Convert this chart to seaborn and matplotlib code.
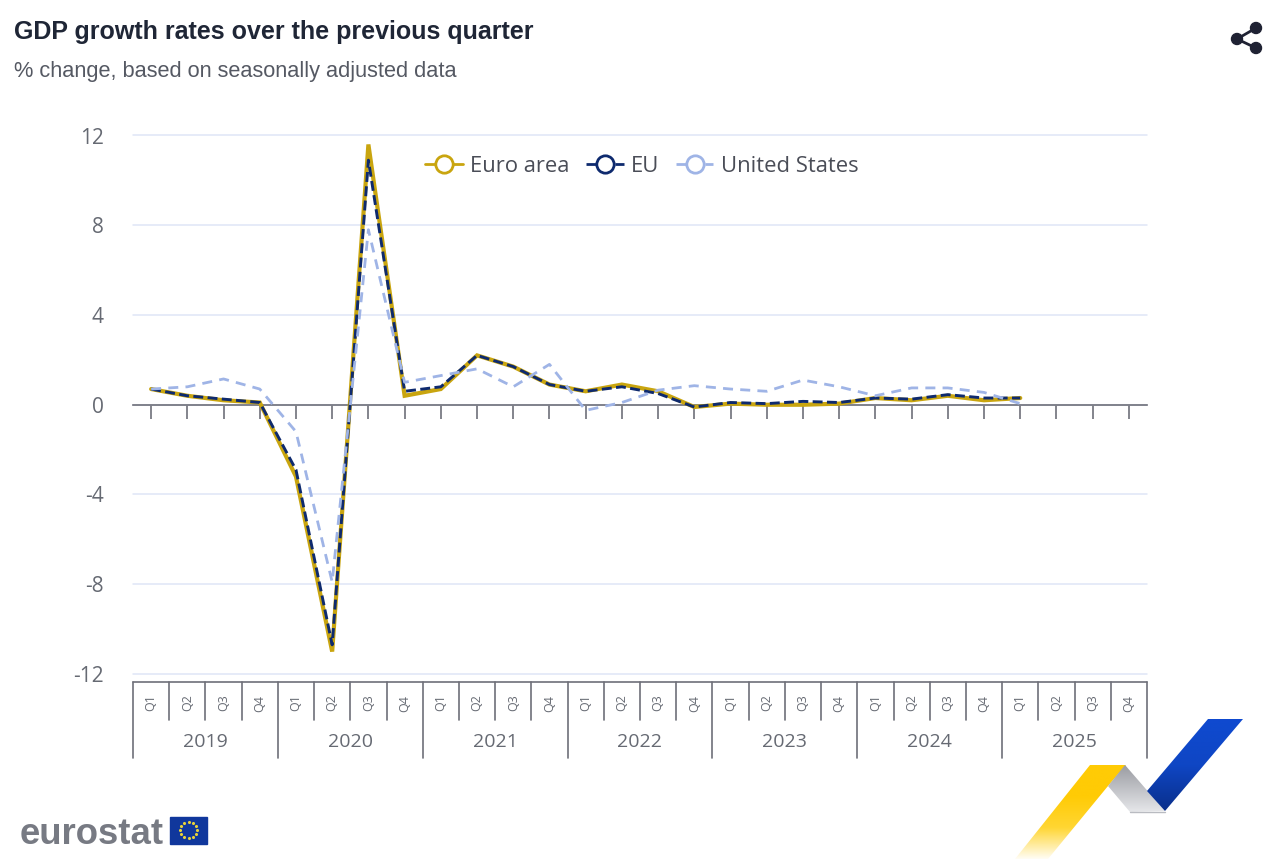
import numpy as np
import pandas as pd
import matplotlib.pyplot as plt
import matplotlib.colors as mcolors
from matplotlib.lines import Line2D
from matplotlib.patches import Polygon, Circle, Rectangle
import seaborn as sns

years = ['2019', '2020', '2021', '2022', '2023', '2024', '2025']
quarters = ['Q1', 'Q2', 'Q3', 'Q4']

euro_area = [0.7, 0.4, 0.2, 0.1, -3.2, -11.0, 11.6, 0.4, 0.7, 2.2, 1.7, 0.9, 0.6, 0.9,
             0.6, -0.1, 0.05, 0.0, 0.0, 0.05, 0.3, 0.2, 0.4, 0.2, 0.3]
eu = [0.7, 0.4, 0.25, 0.1, -2.9, -10.7, 10.9, 0.6, 0.8, 2.2, 1.7, 0.9, 0.6, 0.8,
      0.5, -0.1, 0.1, 0.05, 0.15, 0.1, 0.3, 0.25, 0.45, 0.3, 0.3]
united_states = [0.7, 0.8, 1.15, 0.7, -1.2, -7.9, 7.8, 1.0, 1.3, 1.6, 0.8, 1.8, -0.25, 0.1,
                 0.65, 0.85, 0.7, 0.6, 1.1, 0.8, 0.4, 0.75, 0.75, 0.55, 0.05]
y_ticks = [12, 8, 4, 0, -4, -8, -12]

GOLD = '#c9a50f'
NAVY = '#0e2a6e'
LIGHT = '#9fb4e6'
GREY = '#6e7079'
TEXT = '#666a73'

W, H = 1280, 859

sns.set_theme(style='white')
plt.rcParams['font.family'] = ['Open Sans', 'DejaVu Sans']
plt.rcParams['lines.solid_joinstyle'] = 'miter'

rows = []
for name, vals in [('Euro area', euro_area), ('EU', eu), ('United States', united_states)]:
    for i, v in enumerate(vals):
        rows.append({'idx': i, 'value': v, 'series': name})
df = pd.DataFrame(rows)

fig = plt.figure(figsize=(W / 100, H / 100), dpi=100, facecolor='white')
ax = fig.add_axes([133 / W, 1 - 674 / H, (1147 - 133) / W, (674 - 135.5) / H])
ax.set_facecolor('none')

sns.lineplot(data=df, x='idx', y='value', hue='series', style='series', size='series',
             palette={'Euro area': GOLD, 'EU': NAVY, 'United States': LIGHT},
             dashes={'Euro area': '', 'EU': (3.4, 1.5), 'United States': (3.6, 2.6)},
             sizes={'Euro area': 3.0, 'EU': 2.1, 'United States': 2.0},
             hue_order=['Euro area', 'EU', 'United States'],
             estimator=None, errorbar=None, sort=False,
             legend=False, ax=ax, zorder=3)

n_cats = len(years) * len(quarters)
ax.set_xlim(-0.5, n_cats - 0.5)
ax.set_ylim(-12, 12)
ax.set_xlabel('')
ax.set_ylabel('')

ax.set_yticks(y_ticks)
ax.set_yticklabels([str(v) for v in y_ticks], fontsize=15, color=TEXT)
ax.tick_params(axis='y', length=0, pad=21)
ax.yaxis.grid(True, color='#dfe5f7', linewidth=1.1, clip_on=False)
ax.set_axisbelow(True)

for s in ['top', 'left', 'right']:
    ax.spines[s].set_visible(False)
ax.spines['bottom'].set_position(('data', 0))
ax.spines['bottom'].set_color(GREY)
ax.spines['bottom'].set_linewidth(1.2)
ax.set_xticks(range(n_cats))
ax.set_xticklabels([])
ax.tick_params(axis='x', bottom=True, direction='out', length=10, width=1.2, color=GREY)

# multi level category axis below the plot
px = 1 / (674 - 135.5)
tr = ax.get_xaxis_transform()
def axy(ypix):
    return 1 - (ypix - 135.5) * px

ax.plot([-0.5, n_cats - 0.5], [axy(682), axy(682)], transform=tr, color=GREY, lw=1.2, clip_on=False)
for i in range(n_cats + 1):
    bottom = 758 if i % 4 == 0 else 720
    ax.plot([i - 0.5, i - 0.5], [axy(682), axy(bottom)], transform=tr, color=GREY, lw=1.2, clip_on=False)
for i in range(n_cats):
    ax.text(i, axy(703), quarters[i % 4], transform=tr, rotation=90, ha='center', va='center',
            fontsize=9, color=TEXT)
for j, yr in enumerate(years):
    ax.text(j * 4 + 1.5, axy(742), yr, transform=tr, ha='center', va='center', fontsize=14, color=TEXT)

# legend
handles = [
    Line2D([], [], color=GOLD, lw=2, marker='o', ms=12.5, mfc='white', mew=2),
    Line2D([], [], color=NAVY, lw=2, ls=(0, (3.6, 1.6)), marker='o', ms=12.5, mfc='white', mew=2),
    Line2D([], [], color=LIGHT, lw=2, ls=(0, (3.6, 1.6)), marker='o', ms=12.5, mfc='white', mew=2),
]
leg = ax.legend(handles, ['Euro area', 'EU', 'United States'], ncol=3, frameon=False,
                loc='center', bbox_to_anchor=((642 - 133) / (1147 - 133), axy(166)),
                fontsize=15.8, labelcolor='#4a4d57', handlelength=1.7, handletextpad=0.35,
                columnspacing=0.75, borderpad=0, borderaxespad=0)

# titles
fig.text(14 / W, 1 - 32 / H, 'GDP growth rates over the previous quarter', family='Liberation Sans',
         fontweight='bold', fontsize=18, color='#1f2636', va='center', ha='left')
fig.text(14 / W, 1 - 72 / H, '% change, based on seasonally adjusted data', family='Liberation Sans',
         fontsize=15.7, color='#555963', va='center', ha='left')

# overlay in pixel coordinates for logo and decoration
ov = fig.add_axes([0, 0, 1, 1], zorder=5)
ov.set_facecolor('none')
ov.axis('off')

def ribbon(points, stops, extent):
    poly = Polygon(points, closed=True, facecolor='none', edgecolor='none')
    ov.add_patch(poly)
    cmap = mcolors.LinearSegmentedColormap.from_list('r', stops)
    grad = np.linspace(0, 1, 256).reshape(-1, 1)
    im = ov.imshow(grad, extent=extent, cmap=cmap, aspect='auto', origin='upper', zorder=2)
    im.set_clip_path(poly)

ribbon([(1090, 765), (1126, 765), (1108, 786), (1048, 859), (1015, 859)],
       ['#ffcb05', '#ffcb05', '#ffd633', '#fffdf5'], (1010, 1130, 859, 765))
ribbon([(1125, 765), (1165, 811), (1130, 812), (1108, 786)],
       ['#9a9ca2', '#e6e7ea'], (1105, 1170, 812, 765))
ribbon([(1208, 719), (1243, 719), (1165, 811), (1147, 791)],
       ['#0f4ad0', '#0f46c4', '#0a2f8a'], (1145, 1245, 811, 719))
ov.plot([1130, 1165], [812, 812], color='#b9bbc1', lw=1, zorder=3)

# share icon
for cx, cy in [(1256, 28), (1237, 39), (1256, 48)]:
    ov.add_patch(Circle((cx, cy), 5.5, color='#1f2233', zorder=3))
ov.plot([1256, 1237, 1256], [28, 39, 48], color='#1f2233', lw=2, zorder=3)

# eurostat logo
ov.text(20, 834, 'eurostat', family='Liberation Sans', fontweight='bold', fontsize=26.3,
        color='#777a83', va='center', ha='left', zorder=3)
ov.add_patch(Rectangle((170, 817), 37, 26.5, color='#10379c', zorder=3))
angles = np.arange(12) * np.pi / 6
ov.scatter(188.5 + 8.3 * np.cos(angles), 830 + 8.3 * np.sin(angles), s=1.5, color='#e8d23a', zorder=4)

ov.set_xlim(0, W)
ov.set_ylim(H, 0)

fig.savefig('out.png', dpi=100)
